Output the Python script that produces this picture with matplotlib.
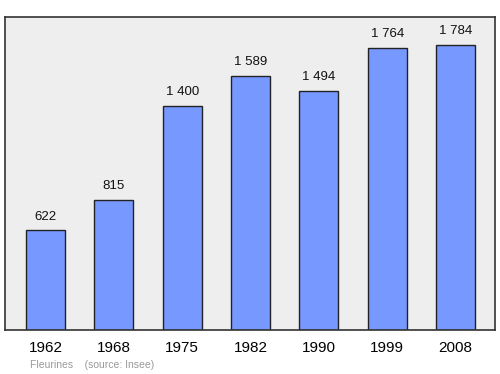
import matplotlib

matplotlib.use("Agg")

import matplotlib.pyplot as plt

years = ["1962", "1968", "1975", "1982", "1990", "1999", "2008"]
population = [622, 815, 1400, 1589, 1494, 1764, 1784]
value_labels = ["622", "815", "1 400", "1 589", "1 494", "1 764", "1 784"]

plt.rcParams["font.family"] = ["Liberation Sans", "DejaVu Sans"]


def main() -> None:
    fig = plt.figure(figsize=(5.0, 3.74), dpi=100)
    ax = fig.add_axes((0.01, 0.1176, 0.98, 0.837))
    ax.set_facecolor("#eeeeee")

    positions = list(range(len(years)))
    ax.bar(positions, population, width=0.57, color="#7799ff", edgecolor="#222222", linewidth=1.0, zorder=2)

    for x, value, label in zip(positions, population, value_labels, strict=True):
        ax.annotate(label, (x, value), xytext=(0, 5.5), textcoords="offset points",
                    ha="center", va="bottom", fontsize=9.5, color="#111111")

    ax.set_xlim(-0.593, 6.578)
    ax.set_ylim(0, 1956)
    ax.set_xticks(positions)
    ax.set_xticklabels(years, fontsize=11)
    ax.tick_params(axis="x", length=0, pad=8)
    ax.set_yticks([])
    for spine in ax.spines.values():
        spine.set_color("#333333")
        spine.set_linewidth(1.2)

    fig.text(0.06, 0.024, "Fleurines    (source: Insee)", fontsize=7.5, color="#999999", ha="left", va="center")
    fig.savefig("out.png", dpi=100)
    plt.close(fig)


if __name__ == "__main__":
    main()
